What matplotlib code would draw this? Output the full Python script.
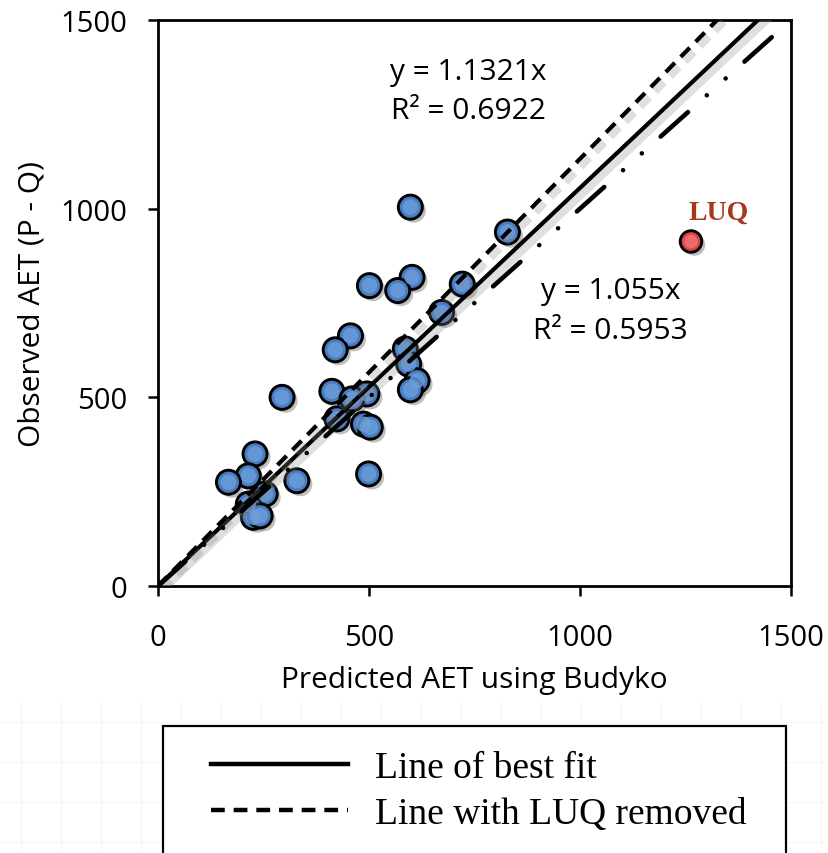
import matplotlib
matplotlib.use("Agg")
import matplotlib.pyplot as plt
import matplotlib.patheffects as pe
from matplotlib.patches import Rectangle

# ---------------------------
# DATA
# ---------------------------

# Predicted AET (Budyko) vs observed AET (P - Q), one point per catchment
predicted_aet = [598, 602, 568, 501, 721, 828, 672, 586, 594, 614, 598, 456, 420, 412,
                 495, 460, 294, 424, 487, 503, 499, 230, 214, 167, 329, 254, 214, 226, 242]
observed_aet = [1004, 818, 783, 796, 800, 938, 725, 628, 588, 544, 520, 663, 626, 516,
                509, 496, 500, 443, 429, 421, 297, 350, 292, 275, 279, 244, 217, 182, 186]

# LUQ site, plotted apart
luq_predicted = [1263]
luq_observed = [913]

# regression through origin
slope_all = 1.055
r2_all = 0.5953
slope_no_luq = 1.1321
r2_no_luq = 0.6922
slope_one_to_one = 1.0

x_line = [0, 1500]

# ---------------------------
# FIGURE
# ---------------------------

W, H = 829, 854
SANS = "Open Sans"
fig = plt.figure(figsize=(W / 100, H / 100), dpi=100)

# faint worksheet grid behind the legend
bg = fig.add_axes([0, 0, 1, 151 / H], zorder=-5)
bg.set_xlim(0, W)
bg.set_ylim(854, 703)
bg.axis("off")
for gx in range(21, W, 40):
    bg.axvline(gx, color="#f7f7f7", lw=1.0)
for gy in range(723, H, 40):
    bg.axhline(gy, color="#f7f7f7", lw=1.0)

ax = fig.add_axes([158 / W, 1 - 587 / H, (791 - 158) / W, (587 - 21) / H])

sombra_marker = [pe.SimplePatchShadow(offset=(2.5, -2.5), shadow_rgbFace="0.45", alpha=0.45), pe.Normal()]
sombra_linea = [pe.SimpleLineShadow(offset=(2.5, -2.5), shadow_color="0.55", alpha=0.28, linewidth=7), pe.Normal()]

# sites: dark rim + lighter centre to fake the gradient fill
ax.scatter(predicted_aet, observed_aet, s=300, facecolor="#4a7cc0", edgecolor="black",
           linewidth=2.1, zorder=3, path_effects=sombra_marker)
ax.scatter(predicted_aet, observed_aet, s=125, facecolor="#6d9fdd", edgecolor="none",
           alpha=0.8, zorder=3)
ax.scatter(luq_predicted, luq_observed, s=240, facecolor="#e0454b", edgecolor="black",
           linewidth=2.1, zorder=3, path_effects=sombra_marker)
ax.scatter(luq_predicted, luq_observed, s=95, facecolor="#f27479", edgecolor="none",
           alpha=0.8, zorder=3)

y_all = [slope_all * x for x in x_line]
y_no_luq = [slope_no_luq * x for x in x_line]
y_one = [slope_one_to_one * x for x in x_line]

l_fit, = ax.plot(x_line, y_all, color="black", lw=3.0, zorder=4,
                 path_effects=sombra_linea, label="Line of best fit")
l_noluq, = ax.plot(x_line, y_no_luq, color="black", lw=3.0, zorder=4, dashes=(3.1, 2.0),
                   path_effects=sombra_linea, label="Line with LUQ removed")
ax.plot(x_line, y_one, color="black", lw=3.3, zorder=4, dash_capstyle="round",
        dashes=(8.0, 5.5, 0.01, 5.5, 0.01, 5.5))

# equations
eq_font = dict(fontsize=21.5, family=SANS, ha="center", va="center")
ax.text(736, 1312, f"y = {slope_no_luq}x\nR² = {r2_no_luq}", linespacing=1.42, **eq_font)
ax.text(1073, 729, f"y = {slope_all}x\nR² = {r2_all}", linespacing=1.5, **eq_font)

ax.text(1329, 991, "LUQ", color="#a8361b", fontsize=20, fontweight="bold",
        family="Liberation Serif", ha="center", va="center")

ax.set_xlim(0, 1500)
ax.set_ylim(0, 1500)
ax.set_xticks([0, 500, 1000, 1500])
ax.set_yticks([0, 500, 1000, 1500])
for s in ax.spines.values():
    s.set_linewidth(2.0)
ax.tick_params(direction="out", length=7, width=1.8, labelsize=21, pad=15)
ax.tick_params(axis="x", pad=20)
for lab in ax.get_xticklabels() + ax.get_yticklabels():
    lab.set_family(SANS)

ax.set_xlabel("Predicted AET using Budyko", fontsize=21.5, family=SANS, labelpad=9)
ax.set_ylabel("Observed AET (P - Q)", fontsize=21.5, family=SANS, labelpad=10)

# ---------------------------
# LEGEND
# ---------------------------

fig.patches.append(Rectangle((163 / W, -0.05), (786 - 163) / W, 0.05 + 1 - 727 / H,
                             transform=fig.transFigure, fill=True, facecolor="white",
                             edgecolor="black", lw=1.6, zorder=1))
leg = fig.legend(handles=[l_fit, l_noluq], loc="upper left",
                 bbox_to_anchor=(177 / W, 1 - 718 / H), frameon=False,
                 prop={"family": "Liberation Serif", "size": 27},
                 handlelength=3.65, handletextpad=0.72, labelspacing=0.31)
for h in leg.get_lines():
    h.set_linewidth(3.2)
    h.set_path_effects([])

fig.savefig("out.png", dpi=100)
